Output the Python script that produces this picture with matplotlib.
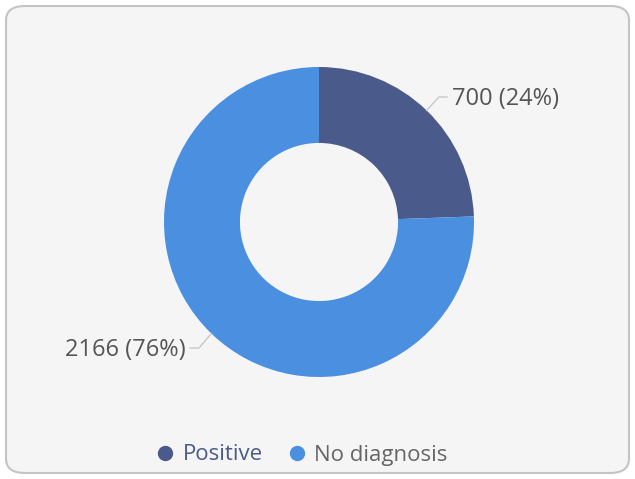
import numpy as np
import matplotlib.pyplot as plt
from matplotlib.patches import FancyBboxPatch
from matplotlib.lines import Line2D

labels = ['Positive', 'No diagnosis']
counts = [700, 2166]
colors = ['#4a5a8a', '#4a8fe0']

W, H = 635, 479
fig = plt.figure(figsize=(W / 100, H / 100), dpi=100)
fig.patch.set_facecolor('white')
plt.rcParams['font.family'] = ['Open Sans', 'DejaVu Sans']

# rounded card behind everything
card = FancyBboxPatch((6 / W, 6 / H), (W - 12) / W, (H - 12) / H,
                      boxstyle='round,pad=0,rounding_size=0.03',
                      transform=fig.transFigure, facecolor='#f5f5f5',
                      edgecolor='#c4c4c4', linewidth=1.5, zorder=-1)
fig.patches.append(card)

# donut
cx, cy, r = 319, 222, 155
ax = fig.add_axes([(cx - r) / W, (H - cy - r) / H, 2 * r / W, 2 * r / H])
ax.set_zorder(2)
ax.set_facecolor('none')
wedges, _ = ax.pie(counts, colors=colors, startangle=90, counterclock=False,
                   radius=1, wedgeprops=dict(width=0.49, linewidth=0))
ax.set_xlim(-1, 1)
ax.set_ylim(-1, 1)
ax.set_aspect('equal')
ax.axis('off')

# leader layout in pixels: (elbow x, line y, end x, text x, ha)
leaders = [(439, 97, 447, 452, 'left'), (199, 348, 190, 186, 'right')]


def px(x, y):
    return (x - cx) / r, (cy - y) / r


total = sum(counts)
for w, c, (ex, ly, endx, tx, ha) in zip(wedges, counts, leaders):
    mid = np.deg2rad((w.theta1 + w.theta2) / 2)
    x0, y0 = 1.0 * np.cos(mid), 1.0 * np.sin(mid)
    x1, y1 = px(ex, ly)
    x2, _ = px(endx, ly)
    ax.plot([x0, x1, x2], [y0, y1, y1], color='#c8c8c8', lw=1, clip_on=False)
    tx_, ty_ = px(tx, ly + 2)
    ax.text(tx_, ty_, f"{c} ({c / total * 100:.0f}%)", ha=ha, va='center',
            fontsize=17, color='#555555', clip_on=False)

# legend
handles = [Line2D([], [], marker='o', linestyle='none', markersize=10,
                  markerfacecolor=col, markeredgecolor=col) for col in colors]
leg = fig.legend(handles, labels, loc='center', bbox_to_anchor=(301 / W, (H - 455) / H),
                 ncol=2, frameon=False, fontsize=16, handletextpad=0.3,
                 columnspacing=1.0, handlelength=1.0)
leg.get_texts()[0].set_color('#4a5a8a')
leg.get_texts()[1].set_color('#666666')

fig.savefig('out.png', dpi=100)
